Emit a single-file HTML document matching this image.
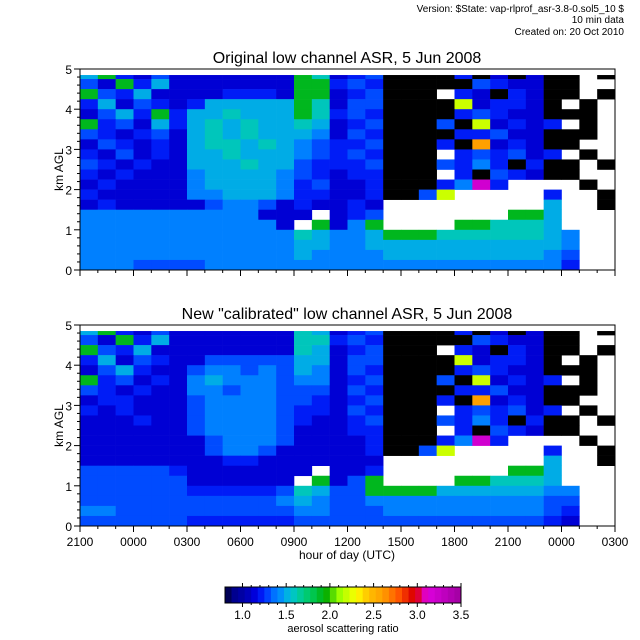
<!DOCTYPE html>
<html><head><meta charset="utf-8"><style>
html,body{margin:0;padding:0;background:#fff;}
svg{display:block;font-family:"Liberation Sans",sans-serif;}
</style></head><body>
<svg id="chart" width="640" height="640" viewBox="0 0 640 640">
<g font-size="10" text-anchor="end" fill="#000">
<text x="624" y="12">Version: $State: vap-rlprof_asr-3.8-0.sol5_10 $</text>
<text x="624" y="23">10 min data</text>
<text x="624" y="35">Created on: 20 Oct 2010</text>
</g>
<text x="347" y="63" font-size="16" text-anchor="middle">Original low channel ASR, 5 Jun 2008</text>
<text x="347" y="319" font-size="16" text-anchor="middle">New "calibrated" low channel ASR, 5 Jun 2008</text>
<g id="panels"></g>
<text x="347" y="559" font-size="12" text-anchor="middle">hour of day (UTC)</text>
<g id="cbar"></g>
<text x="343" y="632" font-size="11" text-anchor="middle">aerosol scattering ratio</text>
</svg>
<script>
// ---- data ----
const xTickLabels = ["2100","0000","0300","0600","0900","1200","1500","1800","2100","0000","0300"];
const yTickLabels = ["0","1","2","3","4","5"];
const cbarTickLabels = ["1.0","1.5","2.0","2.5","3.0","3.5"];
const cbarTickValues = [1.0,1.5,2.0,2.5,3.0,3.5];
const codeValues = {k:0.8,'0':1.12,'1':1.22,'2':1.3,'3':1.4,'4':1.5,'5':1.6,'6':1.9,'7':2.2,'8':2.6,'9':2.9,m:3.2,w:null};
// rows top (4.75-4.85 km) to bottom (0-0.25 km), 30 hourly columns from 2100
const gridOriginal = [
"46102"+"0"+"000000"+"65"+"0"+"12"+"k"+"kkk1k0k0"+"k"+"kwk",
"20614"+"0"+"000000"+"66"+"1"+"21"+"k"+"kkkk2100"+"k"+"kww",
"62140"+"0"+"001110"+"66"+"0"+"12"+"k"+"kkw10k10"+"k"+"kwk",
"14021"+"0"+"144444"+"65"+"0"+"22"+"k"+"kkk70110"+"k"+"wkw",
"02416"+"1"+"445444"+"65"+"1"+"21"+"k"+"kkk12100"+"k"+"kkw",
"61204"+"1"+"454544"+"54"+"0"+"12"+"k"+"kk2k7010"+"1"+"wkw",
"21012"+"0"+"454544"+"43"+"0"+"21"+"k"+"kkk11200"+"k"+"kkw",
"02101"+"0"+"455454"+"32"+"1"+"12"+"k"+"kk1k8010"+"k"+"kww",
"10201"+"0"+"445444"+"32"+"1"+"21"+"k"+"kkw12120"+"1"+"wkw",
"21010"+"0"+"444544"+"21"+"1"+"12"+"k"+"kk2131k1"+"k"+"kwk",
"10100"+"0"+"344443"+"21"+"0"+"11"+"k"+"kkw1k210"+"k"+"kww",
"01000"+"0"+"344443"+"12"+"0"+"01"+"k"+"kk13m1ww"+"w"+"wkw",
"10000"+"0"+"334443"+"11"+"0"+"01"+"k"+"k27wwwww"+"1"+"wwk",
"01000"+"0"+"023320"+"10"+"0"+"10"+"w"+"wwwwwwww"+"4"+"wwk",
"33333"+"3"+"333300"+"0w"+"0"+"12"+"w"+"wwwwww66"+"4"+"www",
"33333"+"3"+"333330"+"w6"+"0"+"36"+"w"+"www66555"+"4"+"www",
"33333"+"3"+"333333"+"54"+"3"+"34"+"6"+"66555555"+"4"+"3ww",
"33333"+"3"+"333333"+"44"+"3"+"34"+"4"+"44444444"+"4"+"3ww",
"33333"+"3"+"333333"+"43"+"3"+"33"+"4"+"44444444"+"3"+"2ww",
"33322"+"2"+"233333"+"33"+"3"+"33"+"3"+"33333333"+"3"+"1ww"
];
const gridCalibrated = [
"46102"+"0"+"000000"+"54"+"0"+"12"+"k"+"kkk1k0k0"+"k"+"kwk",
"20614"+"0"+"000000"+"55"+"1"+"21"+"k"+"kkkk2100"+"k"+"kww",
"62140"+"0"+"000000"+"54"+"0"+"12"+"k"+"kkw10k10"+"k"+"kwk",
"14021"+"0"+"022222"+"44"+"0"+"22"+"k"+"kkk70110"+"k"+"wkw",
"02410"+"0"+"233232"+"43"+"0"+"21"+"k"+"kkk12100"+"k"+"kkw",
"61201"+"0"+"343332"+"33"+"0"+"12"+"k"+"kk2k7010"+"1"+"wkw",
"21010"+"0"+"332332"+"22"+"0"+"21"+"k"+"kkk11200"+"k"+"kkw",
"01100"+"0"+"233332"+"21"+"0"+"12"+"k"+"kk1k8010"+"k"+"kww",
"10100"+"0"+"233332"+"11"+"0"+"21"+"k"+"kkw12120"+"1"+"wkw",
"00010"+"0"+"233332"+"10"+"0"+"12"+"k"+"kk2131k1"+"k"+"kwk",
"00000"+"0"+"233332"+"00"+"0"+"11"+"k"+"kkw1k210"+"k"+"kww",
"00000"+"0"+"023332"+"00"+"0"+"01"+"k"+"kk13m1ww"+"w"+"wkw",
"00000"+"0"+"023320"+"00"+"0"+"01"+"k"+"k27wwwww"+"1"+"wwk",
"00000"+"0"+"001100"+"00"+"0"+"00"+"w"+"wwwwwwww"+"4"+"wwk",
"22222"+"1"+"000000"+"0w"+"0"+"01"+"w"+"wwwwww66"+"4"+"www",
"22222"+"2"+"000000"+"w6"+"0"+"26"+"w"+"www66555"+"4"+"www",
"22222"+"2"+"111112"+"54"+"2"+"26"+"6"+"66444444"+"3"+"3ww",
"22222"+"2"+"222223"+"43"+"2"+"23"+"3"+"33333333"+"2"+"2ww",
"33222"+"2"+"222222"+"33"+"2"+"22"+"3"+"33333333"+"2"+"1ww",
"22222"+"2"+"111111"+"22"+"2"+"22"+"2"+"22222222"+"1"+"0ww"
];
</script>
<script>
const NS="http://www.w3.org/2000/svg";
function mk(tag,attrs,parent){const e=document.createElementNS(NS,tag);for(const k in attrs)e.setAttribute(k,attrs[k]);parent.appendChild(e);return e;}
const stops=[[0.8,[0,0,0]],[0.83,[0,0,80]],[0.9,[0,0,140]],[1.05,[0,0,180]],[1.15,[0,0,225]],[1.25,[0,40,255]],[1.35,[0,110,255]],[1.42,[0,135,255]],[1.55,[0,195,215]],[1.7,[0,205,130]],[1.85,[0,195,60]],[1.95,[0,170,0]],[2.1,[150,255,0]],[2.3,[255,255,0]],[2.45,[255,190,0]],[2.6,[255,160,0]],[2.8,[255,80,0]],[2.95,[220,0,0]],[3.05,[225,0,90]],[3.1,[224,0,224]],[3.5,[160,0,160]]];
function color(v){if(v<=stops[0][0])return 'rgb(0,0,0)';for(let i=1;i<stops.length;i++){if(v<=stops[i][0]){const a=stops[i-1],b=stops[i];const t=(v-a[0])/(b[0]-a[0]);const c=a[1].map((x,j)=>Math.round(x+(b[1][j]-x)*t));return 'rgb('+c.join(',')+')';}}return 'rgb(160,0,160)';}
const X0=80,X1=615,HOURS=30;
function xs(h){return X0+h/HOURS*(X1-X0);}
const panels=[{grid:gridOriginal,top:69,bot:270,name:'top',labels:false},{grid:gridCalibrated,top:325,bot:526,name:'bottom',labels:true}];
const pg=document.getElementById('panels');
panels.forEach(p=>{
  const ys=km=>p.bot-km/5*(p.bot-p.top);
  const g=mk('g',{},pg);
  
  
  const nR=p.grid.length;
  p.grid.forEach((row,r)=>{
    const kmLo=(nR-1-r)*0.25, kmHi=Math.min((nR-r)*0.25,4.85);
    for(let c=0;c<HOURS;c++){
      const v=codeValues[row[c]];
      if(v===null||v===undefined)continue;
      const x0=xs(c),x1=xs(c+1);
      const rc=mk('rect',{x:x0.toFixed(2),y:ys(kmHi).toFixed(2),width:(x1-x0+0.3).toFixed(2),height:(ys(kmLo)-ys(kmHi)+0.3).toFixed(2),fill:color(v)},g);
      
      
    }
  });
  const ax=mk('g',{stroke:'#000','stroke-width':1,fill:'none'},pg);
  
  
  mk('rect',{x:X0,y:p.top,width:X1-X0,height:p.bot-p.top},ax);
  for(let h=0;h<=HOURS;h++){
    const x=xs(h);const len=(h%3===0)?6:3;
    mk('line',{x1:x,y1:p.bot,x2:x,y2:p.bot+len},ax);
  }
  for(let i=0;i<=25;i++){
    const km=i*0.2;const y=ys(km);const len=(i%5===0)?6:3;
    mk('line',{x1:X0-len,y1:y,x2:X0,y2:y},ax);
  }
  yTickLabels.forEach((lab,i)=>{
    const t=mk('text',{x:72,y:ys(i)+5,'font-size':12,'text-anchor':'end'},pg);
    
    
    t.textContent=lab;
  });
  const yt=mk('text',{x:0,y:0,'font-size':12,'text-anchor':'middle',transform:'translate(63,'+((p.top+p.bot)/2)+') rotate(-90)'},pg);
  
  
  yt.textContent='km AGL';
  if(p.labels){
    xTickLabels.forEach((lab,i)=>{
      const t=mk('text',{x:xs(i*3),y:p.bot+20,'font-size':12,'text-anchor':'middle'},pg);
      
      
      t.textContent=lab;
    });
  }
});
// colorbar
const cb=document.getElementById('cbar');
const CB0=225,CB1=461,CBT=587,CBB=603,VMIN=0.8,VMAX=3.5;
const cx=v=>CB0+(v-VMIN)/(VMAX-VMIN)*(CB1-CB0);
const nSteps=36;
for(let i=0;i<nSteps;i++){
  const v0=VMIN+i*(VMAX-VMIN)/nSteps,v1=VMIN+(i+1)*(VMAX-VMIN)/nSteps;
  const r=mk('rect',{x:cx(v0),y:CBT,width:cx(v1)-cx(v0)+0.4,height:CBB-CBT,fill:color((v0+v1)/2)},cb);
  
  
}
const cbb=mk('rect',{x:CB0,y:CBT,width:CB1-CB0,height:CBB-CBT,fill:'none',stroke:'#000'},cb);


for(let v=1.0;v<=3.501;v+=0.1){
  const major=Math.abs(v*2-Math.round(v*2))<1e-6;
  mk('line',{x1:cx(v),y1:CBT,x2:cx(v),y2:CBT-(major?4:2),stroke:'#000'},cb);
  mk('line',{x1:cx(v),y1:CBB,x2:cx(v),y2:CBB+(major?4:2),stroke:'#000'},cb);
}
cbarTickLabels.forEach((lab,i)=>{
  const t=mk('text',{x:cx(cbarTickValues[i]),y:619,'font-size':12,'text-anchor':'middle'},cb);
  
  
  t.textContent=lab;
});
</script>
</body></html>
